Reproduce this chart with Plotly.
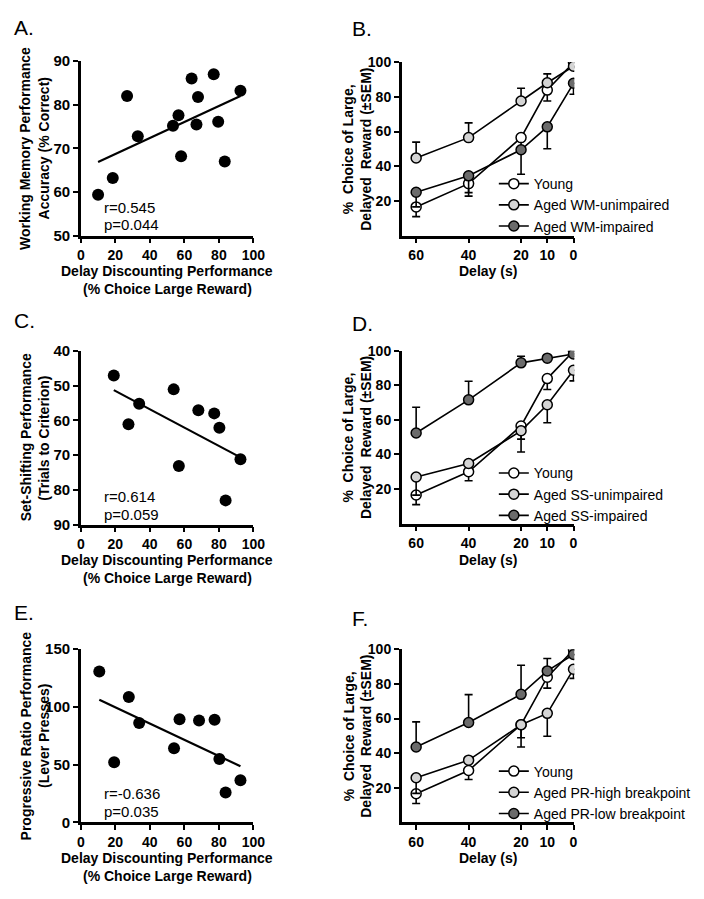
import numpy as np
import plotly.graph_objects as go

# page body keeps its default 8px margin, so the figure is 16px smaller than the window
W, H = 688, 883
OFF = 8
FONT = "Liberation Sans, Arial, Helvetica, sans-serif"

# ---------------- data ----------------
# Panel A: delay discounting vs working memory accuracy
a_x = [10.0, 18.5, 26.8, 33.0, 53.4, 56.6, 58.1, 64.2, 67.9, 67.0, 77.0, 79.6, 83.4, 92.5]
a_y = [59.4, 63.2, 82.0, 72.8, 75.2, 77.6, 68.2, 86.0, 81.8, 75.5, 87.0, 76.1, 67.0, 83.2]
# Panel C: delay discounting vs set-shifting trials to criterion
c_x = [19.1, 27.6, 33.8, 53.8, 56.8, 68.1, 77.3, 80.3, 92.5, 83.9]
c_y = [47.1, 61.1, 55.2, 51.1, 73.1, 57.1, 58.0, 62.1, 71.2, 83.0]
# Panel E: delay discounting vs progressive ratio lever presses
e_x = [10.7, 19.3, 27.8, 33.8, 54.0, 57.2, 68.5, 77.5, 80.3, 83.9, 92.5]
e_y = [130.5, 52.0, 108.5, 85.9, 64.1, 89.3, 88.1, 88.7, 54.8, 26.0, 36.4]

stats_a = ["r=0.545", "p=0.044"]
stats_c = ["r=0.614", "p=0.059"]
stats_e = ["r=-0.636", "p=0.035"]

delays = [60, 40, 20, 10, 0]
delay_labels = ["60", "40", "20", "10", "0"]

young = [16.6, 30.0, 56.5, 83.9, 99.7]
young_err_dn = [5.6, 5.2, 7.6, 6.3, 0.0]

# Panel B
b_unimp = [44.8, 56.5, 77.6, 88.1, 97.6]
b_unimp_up = [9.1, 8.5, 7.3, 5.1, 0.0]
b_imp = [25.0, 34.5, 49.5, 62.7, 87.8]
b_imp_dn = [8.4, 11.7, 14.1, 12.6, 6.3]
# Panel D
d_unimp = [27.0, 34.8, 53.7, 68.8, 88.7]
d_unimp_dn = [10.5, 0.0, 12.3, 10.4, 6.1]
d_imp = [52.4, 71.6, 93.0, 95.7, 98.1]
d_imp_up = [14.9, 10.8, 3.8, 0.0, 0.0]
# Panel F
f_high = [25.8, 36.0, 56.4, 63.0, 88.5]
f_high_dn = [9.0, 0.0, 12.8, 13.2, 5.3]
f_low = [43.6, 57.7, 74.0, 87.5, 97.0]
f_low_up = [14.5, 16.1, 16.8, 7.2, 0.0]

names_b = ["Young", "Aged WM-unimpaired", "Aged WM-impaired"]
names_d = ["Young", "Aged SS-unimpaired", "Aged SS-impaired"]
names_f = ["Young", "Aged PR-high breakpoint", "Aged PR-low breakpoint"]

WHITE, LIGHT, DARK = "#ffffff", "#d4d4d4", "#6b6b6b"

# ---------------- helpers (reference-pixel -> paper coords) ----------------
def px(x):
    return (x - OFF) / W

def py(y):
    return 1 - (y - OFF) / H

def xd(l, r):
    return [px(l), px(r)]

def yd(top, bot):
    return [py(bot), py(top)]

def axis_style(size):
    return dict(showline=True, linecolor="black", linewidth=2.5, ticks="outside",
                ticklen=5, tickwidth=2, tickcolor="black", showgrid=False,
                zeroline=False, fixedrange=True,
                tickfont=dict(family=FONT, size=size, color="black", weight="bold"))

fig = go.Figure()

# ---------------- scatter panels ----------------
scatter_panels = [
    ("x", "y", a_x, a_y),
    ("x3", "y3", c_x, c_y),
    ("x5", "y5", e_x, e_y),
]
for xa, ya, xs, ys in scatter_panels:
    fig.add_trace(go.Scatter(x=xs, y=ys, mode="markers", xaxis=xa, yaxis=ya,
                             marker=dict(size=12, color="black"), showlegend=False,
                             hoverinfo="x+y"))
    k, b = np.polyfit(xs, ys, 1)
    lx = [min(xs), max(xs)]
    fig.add_trace(go.Scatter(x=lx, y=[k * v + b for v in lx], mode="lines",
                             xaxis=xa, yaxis=ya, line=dict(color="black", width=2.2),
                             showlegend=False, hoverinfo="skip"))

# ---------------- line panels ----------------
def add_group(xa, ya, leg, name, vals, up, dn, fill):
    fig.add_trace(go.Scatter(
        x=delays, y=vals, mode="lines+markers", name=name, xaxis=xa, yaxis=ya,
        legend=leg,
        line=dict(color="black", width=1.6),
        marker=dict(size=10, color=fill, line=dict(color="black", width=1.5)),
        error_y=dict(type="data", symmetric=False, array=up, arrayminus=dn,
                     color="black", thickness=1.6, width=4),
    ))

zeros = [0, 0, 0, 0, 0]
line_panels = [
    ("x2", "y2", "legend", names_b, (b_unimp, b_unimp_up, zeros), (b_imp, zeros, b_imp_dn)),
    ("x4", "y4", "legend2", names_d, (d_unimp, zeros, d_unimp_dn), (d_imp, d_imp_up, zeros)),
    ("x6", "y6", "legend3", names_f, (f_high, zeros, f_high_dn), (f_low, f_low_up, zeros)),
]
for xa, ya, leg, names, g2, g3 in line_panels:
    add_group(xa, ya, leg, names[0], young, zeros, young_err_dn, WHITE)
    add_group(xa, ya, leg, names[1], g2[0], g2[1], g2[2], LIGHT)
    add_group(xa, ya, leg, names[2], g3[0], g3[1], g3[2], DARK)

# ---------------- layout ----------------
layout = dict(width=W, height=H, margin=dict(l=0, r=0, t=0, b=0),
              paper_bgcolor="white", plot_bgcolor="white",
              font=dict(family=FONT, color="black"), hovermode="closest")

sc_x = [0, 20, 40, 60, 80, 100]
layout["xaxis"] = dict(axis_style(14), domain=xd(79, 257), range=[0, 100], tickvals=sc_x, anchor="y")
layout["yaxis"] = dict(axis_style(15), domain=yd(53, 231), range=[50, 90], tickvals=[50, 60, 70, 80, 90], anchor="x")
layout["xaxis3"] = dict(axis_style(14), domain=xd(79, 257), range=[0, 100], tickvals=sc_x, anchor="y3")
layout["yaxis3"] = dict(axis_style(15), domain=yd(348.3, 525.7), range=[90, 40], tickvals=[40, 50, 60, 70, 80, 90], anchor="x3")
layout["xaxis5"] = dict(axis_style(14), domain=xd(79, 257), range=[0, 100], tickvals=sc_x, anchor="y5")
layout["yaxis5"] = dict(axis_style(15), domain=yd(652.3, 829.3), range=[0, 150], tickvals=[0, 50, 100, 150], anchor="x5")

ly_ticks = [20, 40, 60, 80, 100]
for i, (top, bot) in zip([2, 4, 6], [(54, 231), (348.3, 524.6), (652.7, 829.3)]):
    layout[f"xaxis{i}"] = dict(axis_style(14), domain=xd(410, 588), range=[65.5, -0.3],
                               tickvals=delays, ticktext=delay_labels, anchor=f"y{i}")
    layout[f"yaxis{i}"] = dict(axis_style(14), domain=yd(top, bot), range=[0, 100],
                               tickvals=ly_ticks, anchor=f"x{i}")

leg_common = dict(font=dict(family=FONT, size=14, color="black"), bgcolor="rgba(0,0,0,0)",
                  xanchor="left", yanchor="top", traceorder="normal", borderwidth=0)
layout["legend"] = dict(leg_common, x=px(505), y=py(162))
layout["legend2"] = dict(leg_common, x=px(505), y=py(457))
layout["legend3"] = dict(leg_common, x=px(505), y=py(761))

fig.update_layout(**layout)

# ---------------- text ----------------
def ann(text, x, y, size=14, bold=True, angle=0, xanchor="center", yanchor="middle"):
    fig.add_annotation(text=text, x=px(x), y=py(y), xref="paper", yref="paper",
                       showarrow=False, textangle=angle, xanchor=xanchor, yanchor=yanchor,
                       font=dict(family=FONT, size=size, color="black",
                                 weight="bold" if bold else "normal"))

for letter, x, y in [("A.", 8, 19), ("B.", 357, 20), ("C.", 8, 317), ("D.", 357, 321),
                     ("E.", 8, 615), ("F.", 357, 621)]:
    ann(letter, x, y, size=21, bold=False, xanchor="left")

# x titles of the scatter panels, one annotation per line
for y1 in (267, 562, 866):
    ann("Delay Discounting Performance", 168, y1)
    ann("(% Choice Large Reward)", 168, y1 + 18)

# y titles of the scatter panels, one annotation per line
for l1, l2, yc in [("Working Memory Performance", "Accuracy (% Correct)", 142),
                   ("Set-Shifting Performance", "(Trials to Criterion)", 437),
                   ("Progressive Ratio Performance", "(Lever Presses)", 741)]:
    ann(l1, 22, yc, angle=-90)
    ann(l2, 41, yc, angle=-90)

for yc in (267, 562, 865):
    ann("Delay (s)", 499, yc)
for top, bot in [(54, 231), (348.3, 524.6), (652.7, 829.3)]:
    yc = (top + bot) / 2
    ann("%  Choice of Large,", 355, yc, angle=-90)
    ann("Delayed  Reward (±SEM)", 373, yc, angle=-90)

for stats, y0 in [(stats_a, 202), (stats_c, 497), (stats_e, 800)]:
    ann(stats[0], 101, y0, size=15, bold=False, xanchor="left")
    ann(stats[1], 101, y0 + 18, size=15, bold=False, xanchor="left")

fig.write_html("out.html", config={"displayModeBar": False})
